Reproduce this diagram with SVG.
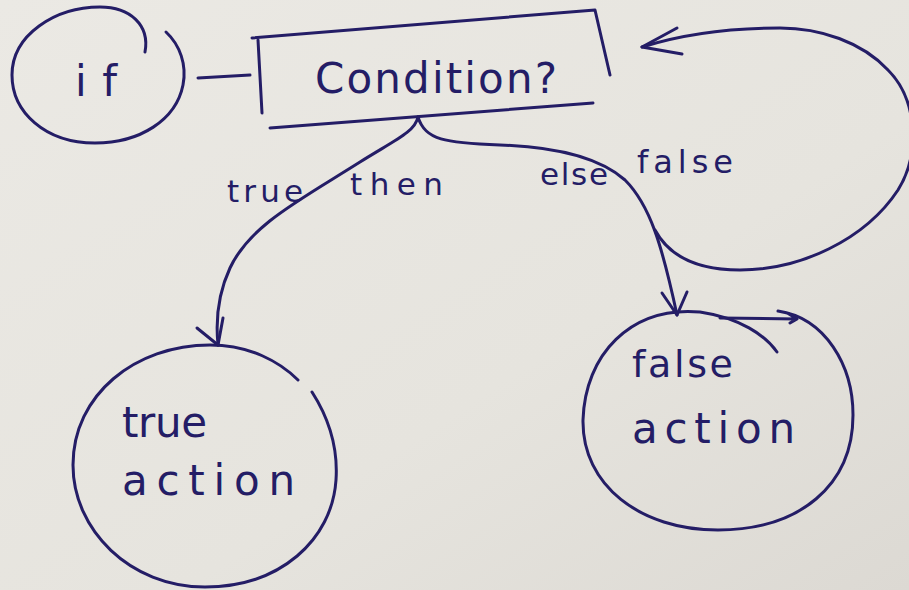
<svg xmlns="http://www.w3.org/2000/svg" width="909" height="590" viewBox="0 0 909 590">
  <defs>
    <linearGradient id="paper" x1="0" y1="0" x2="1" y2="1">
      <stop offset="0" stop-color="#ebe9e4"/>
      <stop offset="0.6" stop-color="#e6e4de"/>
      <stop offset="1" stop-color="#dcd9d3"/>
    </linearGradient>
    <style>
      .ink { fill: none; stroke: #241d66; stroke-width: 3; stroke-linecap: round; stroke-linejoin: round; }
      .hand { fill: #241d66; font-family: "DejaVu Sans", "Liberation Sans", sans-serif; }
      .lbl { font-size: 31px; }
      .big { font-size: 42px; }
    </style>
  </defs>

  <!-- paper -->
  <rect width="909" height="590" fill="url(#paper)"/>

  <!-- start node -->
  <g id="if">
    <path class="ink" d="M 166 32 C 180 45, 187 65, 183 85 C 176 120, 140 143, 95 143 C 45 143, 12 112, 12 75 C 12 35, 55 7, 100 7 C 130 7, 150 25, 145 52"/>
    <text class="hand big" x="75" y="96" textLength="42" lengthAdjust="spacing">if</text>
  </g>

  <!-- decision box -->
  <g id="condition">
    <path class="ink" d="M 258 40 L 262 113"/>
    <path class="ink" d="M 252 38 L 595 10 L 610 75"/>
    <path class="ink" d="M 593 103 L 270 128"/>
    <text class="hand big" x="315" y="93" textLength="242" lengthAdjust="spacing">Condition?</text>
  </g>

  <!-- true branch target -->
  <g id="true-action">
    <path class="ink" d="M 312 392 C 330 420, 338 450, 336 480 C 332 540, 280 587, 205 587 C 130 587, 73 530, 73 465 C 73 395, 135 345, 210 345 C 250 345, 280 362, 298 380"/>
    <text class="hand big" x="122" y="437" textLength="85" lengthAdjust="spacing">true</text>
    <text class="hand big" x="122" y="495" textLength="173" lengthAdjust="spacing">action</text>
  </g>

  <!-- false branch target -->
  <g id="false-action">
    <path class="ink" d="M 777 352 C 765 335, 740 318, 700 312 C 630 306, 585 355, 583 420 C 582 485, 640 530, 718 530 C 800 530, 853 485, 853 415 C 853 365, 825 318, 778 311"/>
    <path class="ink" d="M 720 318 L 797 319 M 789 314 L 797 319 L 790 323"/>
    <text class="hand" font-size="38" x="632" y="377" textLength="101" lengthAdjust="spacing">false</text>
    <text class="hand big" x="632" y="443" textLength="163" lengthAdjust="spacing">action</text>
  </g>

  <!-- connectors -->
  <g id="connectors">
    <path class="ink" d="M 198 78 L 250 75"/>
    <!-- then / true -->
    <path class="ink" d="M 418 117 C 415 132, 395 140, 360 162 C 300 200, 250 225, 230 268 C 216 298, 216 325, 218 345"/>
    <path class="ink" d="M 197 328 L 218 345 L 223 318"/>
    <!-- else / false -->
    <path class="ink" d="M 418 117 C 425 140, 445 143, 500 145 C 560 147, 600 158, 625 180 C 650 205, 662 245, 677 315"/>
    <path class="ink" d="M 662 293 L 677 315 L 687 292"/>
    <!-- loop back to the condition -->
    <path class="ink" d="M 655 230 C 670 258, 700 270, 740 270 C 800 270, 865 240, 898 190 C 920 155, 918 100, 888 70 C 862 42, 820 28, 780 28 C 730 28, 680 35, 642 47"/>
    <path class="ink" d="M 677 28 L 642 47 L 682 54"/>
    <text class="hand lbl" x="227" y="202" textLength="76" lengthAdjust="spacing">true</text>
    <text class="hand lbl" x="350" y="195" textLength="93" lengthAdjust="spacing">then</text>
    <text class="hand lbl" x="540" y="185" textLength="68" lengthAdjust="spacing">else</text>
    <text class="hand" font-size="32" x="637" y="173" textLength="96" lengthAdjust="spacing">false</text>
  </g>
</svg>
